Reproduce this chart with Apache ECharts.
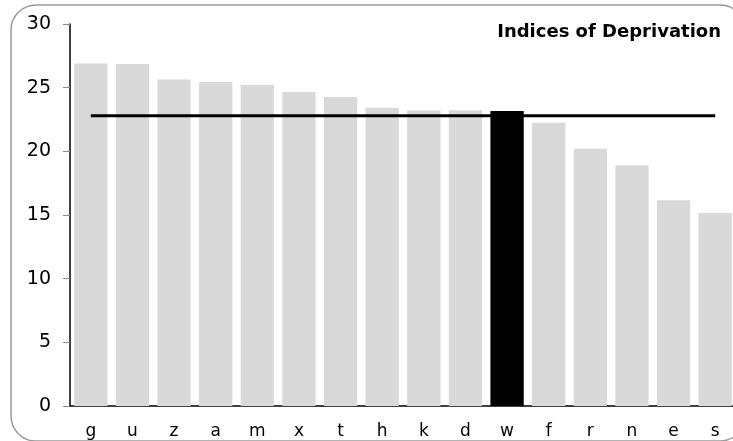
<!DOCTYPE html>
<html>
<head>
<meta charset="utf-8">
<script src="https://cdn.jsdelivr.net/npm/echarts@6/dist/echarts.min.js"></script>
<style>html,body{margin:0;padding:0;background:#fff}#c{width:733px;height:441px}</style>
</head>
<body>
<div id="c"></div>
<script>
var categories = ['g','u','z','a','m','x','t','h','k','d','w','f','r','n','e','s'];
var values = [26.9, 26.85, 25.65, 25.45, 25.2, 24.65, 24.27, 23.43, 23.22, 23.22, 23.17, 22.25, 20.2, 18.9, 16.15, 15.16];
var highlight = 'w';
var averageValue = 22.8;
var yTicks = {min: 0, max: 30, interval: 5};
var titleText = 'Indices of Deprivation';

var chart = echarts.init(document.getElementById('c'));
var barData = values.map(function (v, i) {
  return {value: v, itemStyle: {color: categories[i] === highlight ? '#000000' : '#d9d9d9'}};
});
var lineData = categories.map(function () { return averageValue; });
chart.setOption({
  animation: false,
  title: {
    text: titleText, right: 12, top: 23, padding: 0,
    textStyle: {fontFamily: 'DejaVu Sans', fontWeight: 'bold', fontSize: 18, color: '#000'}
  },
  graphic: [{
    type: 'rect', z: -1,
    shape: {x: 11, y: 5, width: 734, height: 436, r: 25},
    style: {fill: 'none', stroke: '#9a9a9a', lineWidth: 1.5}
  }],
  grid: {left: 70, width: 666, top: 24, bottom: 35, containLabel: false, outerBoundsMode: 'none'},
  xAxis: {
    type: 'category', data: categories,
    axisLine: {lineStyle: {color: '#000', width: 1.5}},
    axisTick: {show: false},
    axisLabel: {color: '#000', fontFamily: 'DejaVu Sans', fontSize: 17, margin: 17},
    splitLine: {show: false}
  },
  yAxis: {
    type: 'value', min: yTicks.min, max: yTicks.max, interval: yTicks.interval,
    axisLine: {show: true, lineStyle: {color: '#000', width: 1.5}},
    axisTick: {show: true, length: 7, lineStyle: {color: '#888'}},
    axisLabel: {color: '#000', fontFamily: 'DejaVu Sans', fontSize: 19, margin: 19},
    splitLine: {show: false}
  },
  series: [{
    type: 'bar', data: barData, barCategoryGap: '20%'
  }, {
    type: 'line', data: lineData, showSymbol: false, symbol: 'none',
    lineStyle: {color: '#000', width: 3}, z: 5
  }]
});
</script>
</body>
</html>
